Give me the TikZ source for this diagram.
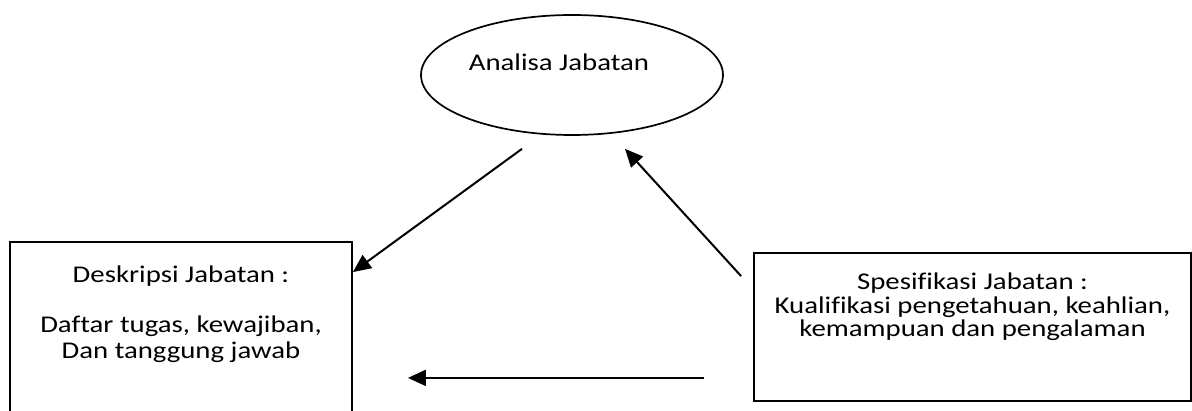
\documentclass[tikz,border=0pt]{standalone}
\usepackage{fontspec}
\setmainfont[Ligatures=NoCommon, FakeStretch=1.2]{Carlito}
\usetikzlibrary{shapes.geometric, positioning, arrows.meta}

\begin{document}
\begin{tikzpicture}[
    x=1pt, y=1pt,
    >={Triangle[length=18pt, width=16pt]},
    box/.style={draw, rectangle, line width=1.8pt, inner sep=0pt},
    txt/.style={align=center, inner sep=0pt, font=\fontsize{24}{26}\selectfont},
    link/.style={->, line width=2pt}
]
\useasboundingbox (0,0) rectangle (1192,411);

% -------------------------
% Nodes
% -------------------------

% 1. Analisa Jabatan (Top)
\node[draw, ellipse, line width=1.7pt, minimum width=302pt, minimum height=120pt] (Analisa) at (572, 336) {};
\node[txt] (AnalisaText) at ([shift={(-13pt,13pt)}]Analisa.center) {Analisa Jabatan};

% 2. Deskripsi Jabatan (Bottom Left)
\node[box, minimum width=342pt, minimum height=183pt] (Deskripsi) at (181, 77.5) {};
\node[txt, below=25pt of Deskripsi.north] (DeskripsiText) {
    Deskripsi Jabatan :\\[24pt]
    Daftar tugas, kewajiban,\\
    Dan tanggung jawab
};

% 3. Spesifikasi Jabatan (Bottom Right)
\node[box, minimum width=437pt, minimum height=148pt] (Spesifikasi) at (972.5, 84) {};
\node[txt, font=\fontsize{24}{23.5}\selectfont, below=21pt of Spesifikasi.north] (SpesifikasiText) {
    Spesifikasi Jabatan :\\
    Kualifikasi pengetahuan, keahlian,\\
    kemampuan dan pengalaman
};

% -------------------------
% Arrows
% -------------------------

% Analisa -> Deskripsi
\draw[link] ([shift={(-50pt,-13pt)}]Analisa.south) -- ([yshift=-31pt]Deskripsi.north east);

% Spesifikasi -> Analisa
\draw[link] ([shift={(-12pt,-24pt)}]Spesifikasi.north west) -- ([shift={(53pt,-13pt)}]Analisa.south);

% Spesifikasi -> Deskripsi
\draw[link] ([shift={(-49pt,24pt)}]Spesifikasi.south west) -- ([shift={(55pt,48pt)}]Deskripsi.south east);

\end{tikzpicture}
\end{document}
